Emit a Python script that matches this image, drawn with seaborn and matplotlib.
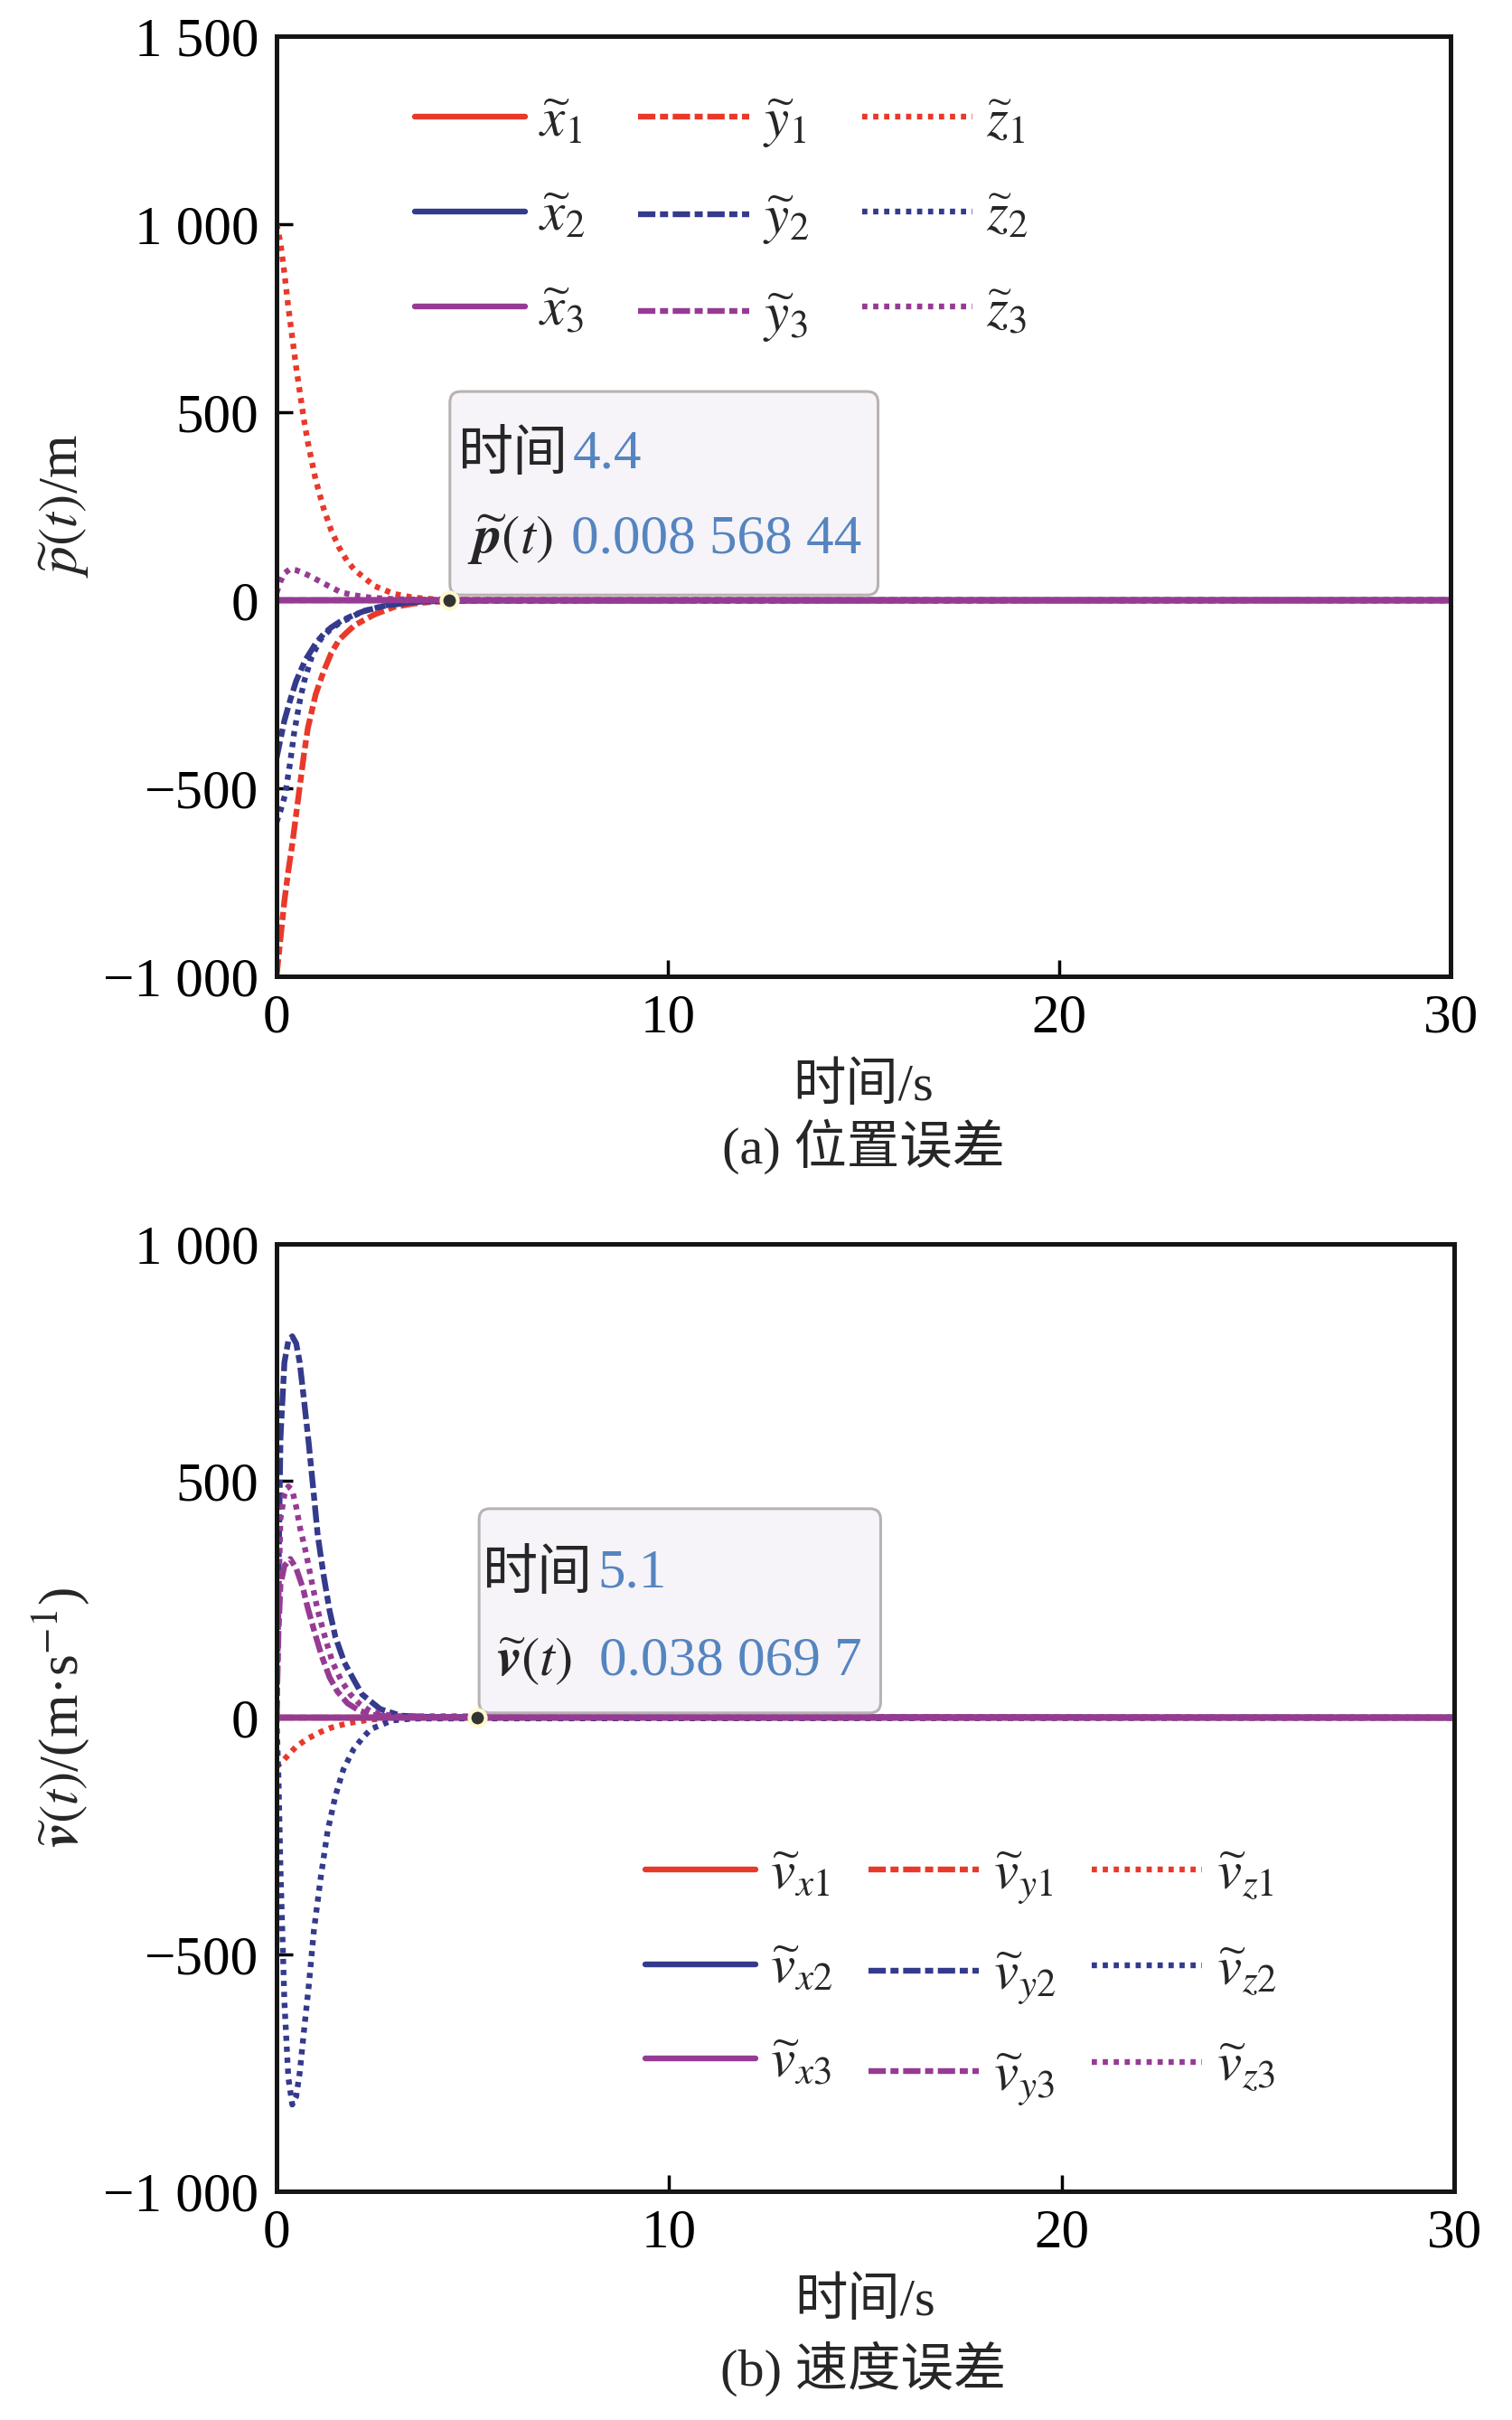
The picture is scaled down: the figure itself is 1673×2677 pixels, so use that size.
import numpy as np
import pandas as pd
import matplotlib
matplotlib.use("Agg")
import matplotlib.pyplot as plt
from matplotlib.patches import FancyBboxPatch
import seaborn as sns

# ---------------- data ----------------
# (a) position errors
t_zero = [0, 30]
val_zero = [0, 0]

t_z1 = [0, 0.1, 0.2, 0.3, 0.4, 0.5, 0.6, 0.7, 0.8, 1.0, 1.2, 1.4, 1.6, 1.8, 2.0, 2.5, 3.0, 3.5, 4.0, 5.0, 30]
v_z1 = [1000, 950, 870, 780, 700, 620, 550, 480, 420, 320, 245, 185, 140, 105, 80, 38, 17, 7, 3, 0.5, 0]

t_y1 = [0, 0.1, 0.2, 0.3, 0.4, 0.5, 0.6, 0.7, 0.8, 1.0, 1.2, 1.4, 1.6, 1.8, 2.0, 2.5, 3.0, 3.5, 4.0, 5.0, 30]
v_y1 = [-1000, -900, -800, -720, -650, -570, -490, -410, -340, -250, -190, -140, -105, -85, -66, -38, -18, -9, -4, -1, 0]

t_y2 = [0, 0.1, 0.2, 0.35, 0.5, 0.73, 1.0, 1.2, 1.4, 1.65, 2.0, 2.26, 2.8, 3.5, 4.0, 5.0, 30]
v_y2 = [-420, -370, -320, -265, -215, -160, -115, -90, -72, -55, -38, -28, -14, -5, -2.5, -0.5, 0]

t_z2 = [0, 0.1, 0.22, 0.35, 0.45, 0.6, 0.71, 0.9, 1.13, 1.35, 1.59, 2.0, 2.26, 2.8, 3.5, 4.0, 5.0, 30]
v_z2 = [-590, -560, -517, -430, -352, -265, -214, -150, -103, -80, -62, -40, -28, -13, -5, -2, -0.5, 0]

t_z3 = [0, 0.1, 0.2, 0.35, 0.5, 0.7, 0.9, 1.2, 1.65, 2.0, 2.4, 3.0, 4.0, 30]
v_z3 = [20, 50, 72, 83, 80, 72, 62, 45, 21, 13, 7, 3, 1, 0]

# (b) velocity errors
t_vy2 = [0, 0.05, 0.1, 0.2, 0.3, 0.4, 0.5, 0.59, 0.7, 0.82, 0.95, 1.05, 1.2, 1.35, 1.5, 1.73, 2.0, 2.18, 2.64, 3.17, 4.0, 30]
v_vy2 = [0, 300, 591, 750, 795, 805, 790, 750, 670, 579, 470, 384, 300, 226, 170, 116, 75, 49, 18, 4, 1, 0]

t_vz2 = [0, 0.05, 0.1, 0.2, 0.3, 0.4, 0.5, 0.59, 0.7, 0.82, 0.95, 1.13, 1.3, 1.5, 1.7, 1.96, 2.2, 2.41, 2.94, 3.5, 30]
v_vz2 = [0, -130, -320, -600, -760, -817, -800, -750, -660, -567, -450, -335, -240, -165, -110, -67, -42, -24, -6, -2, 0]

t_vz3 = [0, 0.05, 0.1, 0.2, 0.3, 0.4, 0.5, 0.6, 0.75, 0.9, 1.05, 1.25, 1.43, 1.65, 1.88, 2.1, 2.41, 3.0, 30]
v_vz3 = [0, 250, 420, 470, 488, 480, 445, 400, 348, 285, 226, 165, 116, 78, 49, 30, 12, 3, 0]

t_vy3 = [0, 0.05, 0.1, 0.2, 0.35, 0.5, 0.67, 0.8, 0.98, 1.15, 1.35, 1.55, 1.81, 2.1, 2.41, 3.0, 30]
v_vy3 = [0, 180, 280, 320, 335, 315, 274, 230, 177, 130, 85, 55, 30, 15, 6, 1.5, 0]

t_vz1 = [0, 0.2, 0.5, 0.8, 1.13, 1.4, 1.81, 2.4, 3.0, 4.0, 30]
v_vz1 = [-104, -88, -61, -44, -30, -21, -12, -4, -1.5, 0, 0]

# annotation values
tip_a_t, tip_a_v = 4.4, 0.00856844
tip_b_t, tip_b_v = 5.1, 0.0380697
tip_a_text = ["4.4", "0.008 568 44"]
tip_b_text = ["5.1", "0.038 069 7"]

# axis ticks / labels
xticks = [0, 10, 20, 30]
xticklabels = ["0", "10", "20", "30"]
yticks_a = [-1000, -500, 0, 500, 1000, 1500]
yticklabels_a = ["\u22121 000", "\u2212500", "0", "500", "1 000", "1 500"]
yticks_b = [-1000, -500, 0, 500, 1000]
yticklabels_b = ["\u22121 000", "\u2212500", "0", "500", "1 000"]

labels_a = [r"$\widetilde{x}_1$", r"$\widetilde{x}_2$", r"$\widetilde{x}_3$",
            r"$\widetilde{y}_1$", r"$\widetilde{y}_2$", r"$\widetilde{y}_3$",
            r"$\widetilde{z}_1$", r"$\widetilde{z}_2$", r"$\widetilde{z}_3$"]
labels_b = [r"$\widetilde{v}_{x1}$", r"$\widetilde{v}_{x2}$", r"$\widetilde{v}_{x3}$",
            r"$\widetilde{v}_{y1}$", r"$\widetilde{v}_{y2}$", r"$\widetilde{v}_{y3}$",
            r"$\widetilde{v}_{z1}$", r"$\widetilde{v}_{z2}$", r"$\widetilde{v}_{z3}$"]

# ---------------- style ----------------
sns.set_style("white")
plt.rcParams['font.family'] = ['Liberation Serif', 'Noto Sans CJK SC']
plt.rcParams['mathtext.fontset'] = 'stix'
plt.rcParams['axes.unicode_minus'] = True

RED = "#e8392a"
BLUE = "#343a8c"
PURPLE = "#963b94"
TXTBLUE = "#5585c0"
FS = 44
LW = 4.6
STY = {"solid": "-", "dashdot": (0, (3.0, 0.8, 1.4, 0.8)), "dot": (0, (0.9, 1.0))}

fig = plt.figure(figsize=(16.73, 26.77), dpi=100)
W, H = 1673.0, 2677.0
ax_a = fig.add_axes([306 / W, 1 - 1080 / H, (1605 - 306) / W, (1080 - 40) / H])
ax_b = fig.add_axes([306 / W, 1 - 2424 / H, (1609 - 306) / W, (2424 - 1376) / H])


def draw(ax, t, v, color, style):
    sns.lineplot(x=t, y=v, ax=ax, color=color, linestyle=STY[style], linewidth=LW,
                 estimator=None, sort=False)
    return ax.lines[-1]


series_a = [
    (t_zero, val_zero, RED, "solid"),
    (t_zero, val_zero, BLUE, "solid"),
    (t_zero, val_zero, PURPLE, "solid"),
    (t_y1, v_y1, RED, "dashdot"),
    (t_y2, v_y2, BLUE, "dashdot"),
    (t_zero, val_zero, PURPLE, "dashdot"),
    (t_z1, v_z1, RED, "dot"),
    (t_z2, v_z2, BLUE, "dot"),
    (t_z3, v_z3, PURPLE, "dot"),
]
series_b = [
    (t_zero, val_zero, RED, "solid"),
    (t_zero, val_zero, BLUE, "solid"),
    (t_zero, val_zero, PURPLE, "solid"),
    (t_zero, val_zero, RED, "dashdot"),
    (t_vy2, v_vy2, BLUE, "dashdot"),
    (t_vy3, v_vy3, PURPLE, "dashdot"),
    (t_vz1, v_vz1, RED, "dot"),
    (t_vz2, v_vz2, BLUE, "dot"),
    (t_vz3, v_vz3, PURPLE, "dot"),
]

# draw order: red, blue, purple (purple zero line on top)
order = [0, 3, 6, 1, 4, 7, 2, 5, 8]


def make_panel(ax, series, labels, yticks, yticklabels, ylim, ylabel,
               tip_t, tip_v, tip_text, tip_name, box, txt_pos, leg_anchor, colsp):
    handles = [None] * 9
    for i in order:
        t, v, c, s = series[i]
        handles[i] = draw(ax, t, v, c, s)
    ax.set_xlim(0, 30)
    ax.set_ylim(*ylim)
    ax.set_xticks(xticks)
    ax.set_xticklabels(xticklabels)
    ax.set_yticks(yticks)
    ax.set_yticklabels(yticklabels)
    ax.tick_params(axis='both', direction='in', length=13, width=2.5,
                   labelsize=FS, colors='black', bottom=True, left=True,
                   top=False, right=False)
    ax.tick_params(axis='x', pad=14)
    ax.tick_params(axis='y', pad=14)
    for sp in ax.spines.values():
        sp.set_linewidth(3.6)
        sp.set_color('#151515')
        sp.set_visible(True)
    ax.set_xlabel('时间/s', fontsize=42, labelpad=15)
    ax.set_ylabel(ylabel, fontsize=FS, labelpad=10)

    ax.legend(handles, labels, ncol=3, fontsize=FS, frameon=False,
              handlelength=2.0, handletextpad=0.25, columnspacing=colsp,
              labelspacing=0.8, loc='upper left',
              bbox_to_anchor=leg_anchor, bbox_transform=fig.transFigure,
              borderpad=0, borderaxespad=0)

    # tooltip box
    x0, x1, y0, y1 = box
    xpp = 30 / (ax.get_position().width * fig.get_figwidth() * fig.dpi)
    ypp = (ylim[1] - ylim[0]) / (ax.get_position().height * fig.get_figheight() * fig.dpi)
    patch = FancyBboxPatch((x0, y0), x1 - x0, y1 - y0,
                           boxstyle="round,pad=0,rounding_size=%f" % (12 * xpp),
                           mutation_aspect=ypp / xpp,
                           facecolor="#f6f4f8", edgecolor="#b9b2b2", lw=2.2, zorder=8)
    ax.add_patch(patch)
    (tx1, ty1, nx1), (tx2, ty2, nx2) = txt_pos
    ax.text(tx1, ty1, '时间', fontsize=FS, ha='left', va='center', zorder=9,
            family=['Noto Sans CJK SC'])
    ax.text(nx1, ty1, tip_text[0], fontsize=FS, ha='left', va='center', color=TXTBLUE, zorder=9)
    ax.text(tx2, ty2, tip_name, fontsize=FS, ha='left', va='center', zorder=9)
    ax.text(nx2, ty2, tip_text[1], fontsize=FS, ha='left', va='center', color=TXTBLUE, zorder=9)
    ax.plot([tip_t], [tip_v], 'o', ms=13, mfc='#333333', mec='#fff9d0', mew=3, zorder=10)


make_panel(ax_a, series_a, labels_a, yticks_a, yticklabels_a, (-1000, 1500),
           r'$\widetilde{p}(t)$/m', tip_a_t, tip_a_v, tip_a_text,
           r'$\widetilde{\mathbfit{p}}(t)$',
           (4.43, 15.37, 14, 555),
           ((4.62, 387, 7.58), (4.88, 161, 7.53)),
           (459 / W, 1 - 107 / H), 0.95)

make_panel(ax_b, series_b, labels_b, yticks_b, yticklabels_b, (-1000, 1000),
           r'$\widetilde{\mathbfit{v}}(t)$/(m·s$^{-1}$)', tip_b_t, tip_b_v, tip_b_text,
           r'$\widetilde{\mathbfit{v}}(t)$',
           (5.16, 15.39, 10, 441),
           ((5.23, 303, 8.18), (5.6, 118, 8.23)),
           (714 / W, 1 - 2046 / H), 0.66)

fig.text(0.571, 1 - 1268 / H, '(a) 位置误差', ha='center', va='center', fontsize=42)
fig.text(0.571, 1 - 2620 / H, '(b) 速度误差', ha='center', va='center', fontsize=42)

fig.savefig('out.png', dpi=100, facecolor='white')
